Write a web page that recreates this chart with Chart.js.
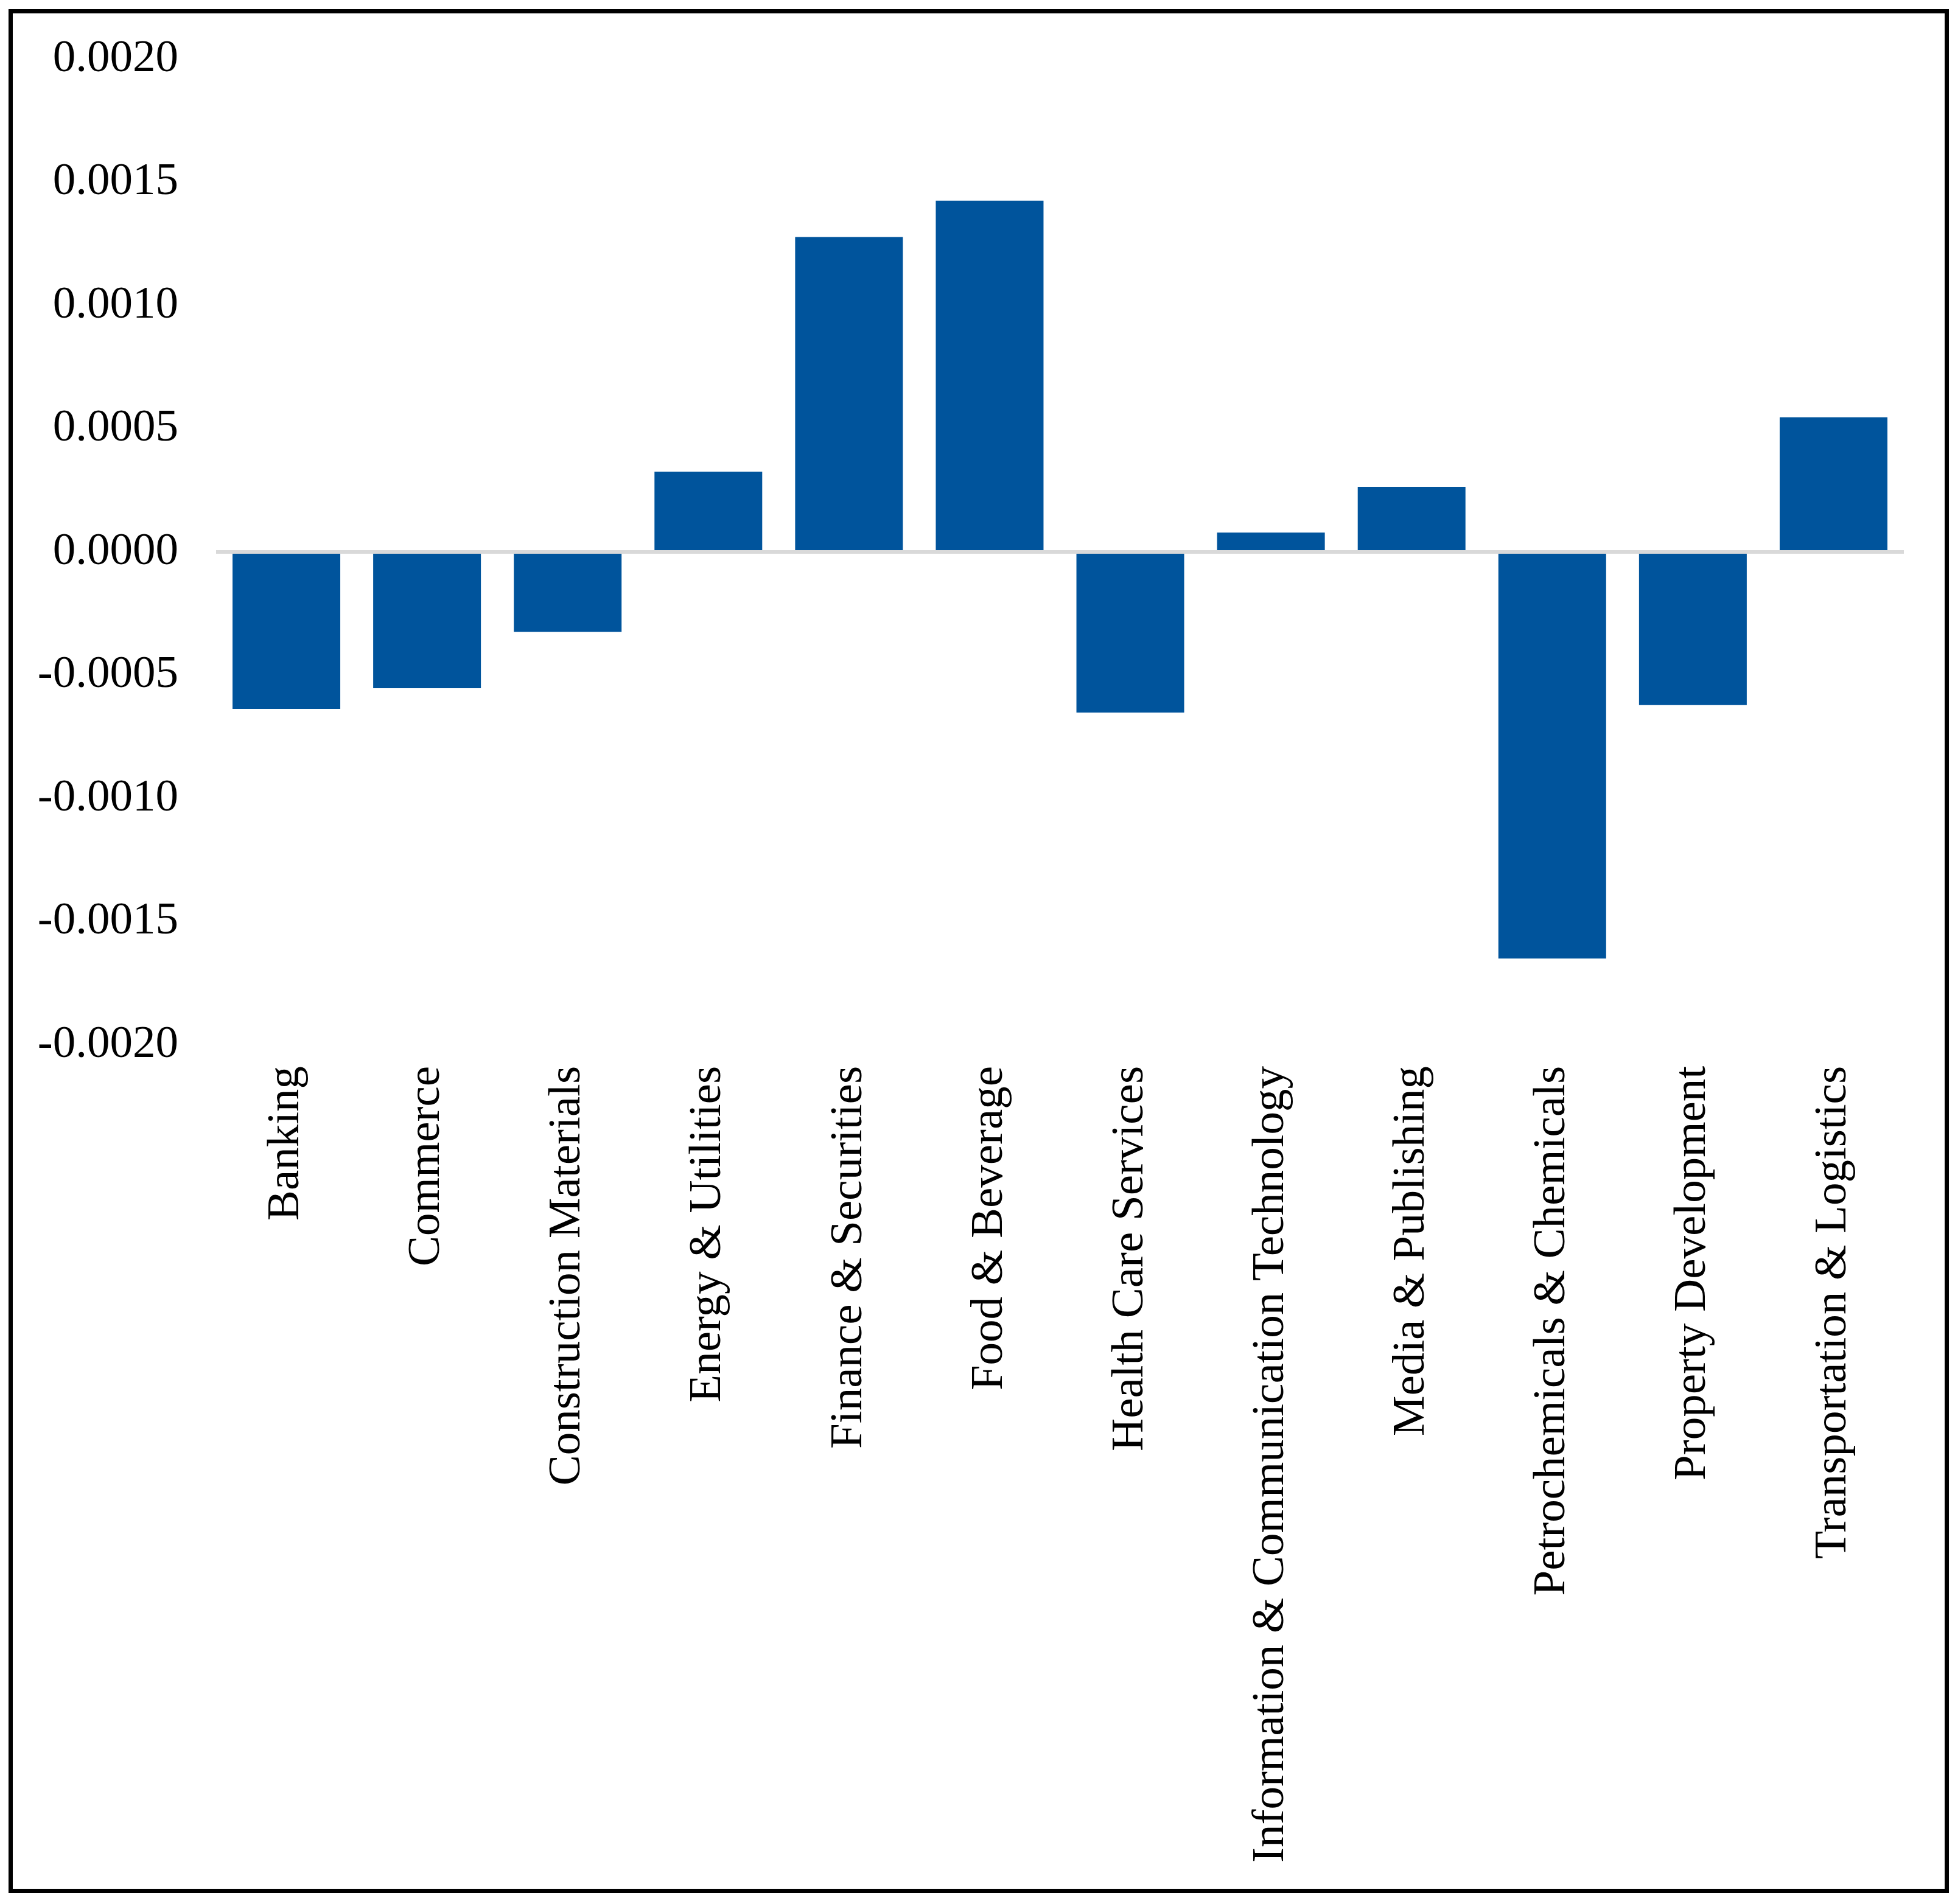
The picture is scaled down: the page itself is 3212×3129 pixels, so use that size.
<!DOCTYPE html>
<html>
<head>
<meta charset="utf-8">
<script src="https://cdn.jsdelivr.net/npm/chart.js@4/dist/chart.umd.min.js"></script>
<style>
  html, body { margin: 0; padding: 0; background: #fff; }
  #wrap { position: relative; width: 3212px; height: 3129px; }
  #frame {
    position: absolute; left: 14px; top: 15px; width: 3188px; height: 3096px;
    box-sizing: border-box; border: 7px solid #000; pointer-events: none;
  }
  canvas { position: absolute; left: 0; top: 0; }
</style>
</head>
<body>
<div id="wrap">
  <canvas id="sectorChart" width="3212" height="3129"></canvas>
  <div id="frame"></div>
</div>
<script>
var sectors = [
  'Banking',
  'Commerce',
  'Construction Materials',
  'Energy & Utilities',
  'Finance & Securities',
  'Food & Beverage',
  'Health Care Services',
  'Information & Communication Technology',
  'Media & Publishing',
  'Petrochemicals & Chemicals',
  'Property Development',
  'Transportation & Logistics'
];

var values = [
  -0.000637, -0.000553, -0.000325, 0.000325, 0.001278, 0.001425,
  -0.000652, 0.000078, 0.000264, -0.001650, -0.000622, 0.000546
];

var yMin = -0.002;
var yMax = 0.002;
var yStep = 0.0005;

function generateChart(containerId) {
  new Chart(containerId, {
    type: 'bar',
    data: {
      labels: sectors,
      datasets: [{
        data: values,
        backgroundColor: '#00549c',
        borderWidth: 0,
        barPercentage: 0.766,
        categoryPercentage: 1.0
      }]
    },
    options: {
      responsive: false,
      animation: false,
      devicePixelRatio: 1,
      layout: {
        padding: { left: 62, right: 84, top: 97, bottom: 41 }
      },
      plugins: {
        legend: { display: false },
        title: { display: false },
        tooltip: { enabled: false }
      },
      scales: {
        x: {
          grid: { display: false },
          border: { display: false },
          ticks: {
            color: '#000',
            font: { family: 'Liberation Serif', size: 75 },
            maxRotation: 90,
            minRotation: 90,
            padding: 27,
            autoSkip: false
          }
        },
        y: {
          min: yMin,
          max: yMax,
          border: { display: false },
          grid: {
            drawTicks: false,
            lineWidth: 6,
            color: function(ctx) {
              return ctx.tick && Math.abs(ctx.tick.value) < 1e-12 ? '#d9d9d9' : 'rgba(0,0,0,0)';
            }
          },
          ticks: {
            stepSize: yStep,
            color: '#000',
            padding: 62,
            font: { family: 'Liberation Serif', size: 75 },
            callback: function(v) {
              if (Math.abs(v) < 1e-12) v = 0;
              return v.toFixed(4);
            }
          },
          // fixed axis width, and no extra top/bottom room for the labels
          afterFit: function(scale) {
            scale.width = 293;
            scale.paddingTop = 0;
            scale.paddingBottom = 0;
          }
        }
      }
    }
  });
}

document.addEventListener('DOMContentLoaded', function() {
  generateChart('sectorChart');
});
</script>
</body>
</html>
